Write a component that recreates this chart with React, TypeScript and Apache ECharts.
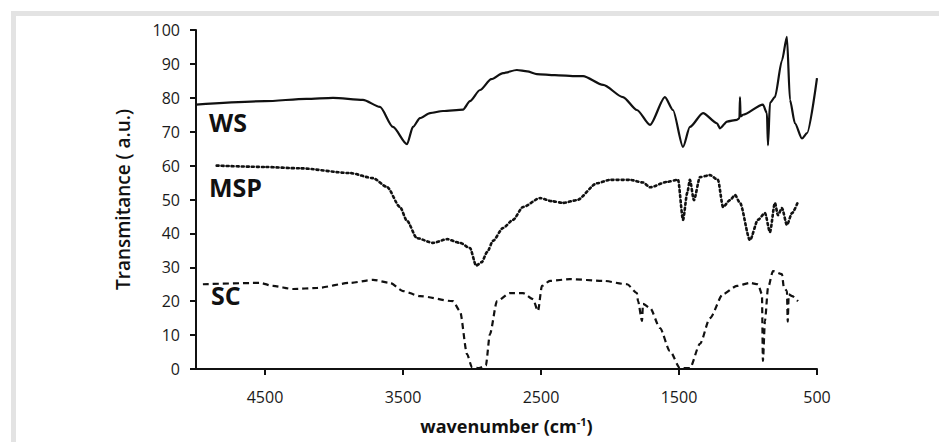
import React, { useEffect, useRef } from "react";
import * as echarts from "echarts";

const xTicks = [4500, 3500, 2500, 1500, 500];

const wsWn = [5000, 4500, 4200, 4007, 3790, 3667, 3573, 3471, 3428, 3377, 3304, 3210, 3065, 3015, 2942, 2860, 2775, 2675, 2600, 2530, 2400, 2240, 2195, 2050, 1906, 1805, 1710, 1602, 1544, 1471, 1421, 1326, 1225, 1203, 1152, 1080, 1062, 1058, 1054, 1036, 892, 863, 855, 841, 805, 754, 718, 696, 660, 609, 572, 500];
const wsT = [78, 79, 79.7, 80, 79.4, 77.3, 71.4, 66.3, 71.4, 74, 75.5, 76.1, 76.5, 79, 82.3, 85.5, 87.3, 88.2, 87.8, 87, 86.7, 86.4, 86.4, 83.8, 80.2, 76.4, 72, 80.2, 76.4, 65.5, 71.4, 75.5, 72.5, 71, 73, 73.5, 74, 80.2, 74.5, 75, 78, 75.5, 66, 78.5, 80.2, 91, 98, 79.4, 72.5, 68, 69.6, 85.8];

const mspWn = [4850, 4500, 4246, 3884, 3717, 3616, 3522, 3471, 3399, 3283, 3181, 3087, 3015, 2970, 2930, 2890, 2848, 2775, 2703, 2630, 2507, 2420, 2341, 2240, 2094, 2000, 1855, 1760, 1710, 1587, 1507, 1471, 1440, 1421, 1392, 1348, 1275, 1218, 1181, 1131, 1094, 1058, 986, 928, 877, 841, 805, 783, 754, 718, 681, 638];
const mspT = [60, 59.6, 59.2, 57.8, 56.3, 53.7, 47.8, 43.7, 38.6, 37.2, 38.3, 37.2, 35.7, 30.5, 31.5, 34.5, 37.8, 41.6, 44, 47.8, 50.4, 49.5, 49, 49.8, 54.8, 55.8, 55.8, 55, 53.6, 55.2, 55.8, 44, 52, 55.8, 49.8, 56.6, 57.2, 55.8, 47.8, 49.8, 51.3, 49, 38, 44, 46, 40.4, 49, 45.4, 47.5, 42.5, 46, 49.3];

const scWn = [4950, 4536, 4442, 4297, 4123, 3884, 3717, 3594, 3500, 3377, 3138, 3087, 3036, 3000, 2950, 2900, 2870, 2819, 2725, 2630, 2558, 2522, 2493, 2435, 2290, 2050, 1877, 1805, 1797, 1768, 1761, 1710, 1638, 1566, 1493, 1421, 1348, 1276, 1181, 1080, 986, 928, 899, 892, 877, 855, 819, 754, 740, 718, 712, 705, 680, 638];
const scT = [25, 25.4, 24.5, 23.6, 23.9, 25.4, 26.3, 25.4, 23, 21.5, 20, 17.1, 4.4, 0.5, 0.3, 1, 10.3, 20, 22.4, 22.4, 20.6, 17.1, 24.5, 26, 26.5, 26, 25, 22.4, 20, 14.2, 19.2, 18, 12.1, 5.3, 0.3, 0.3, 7.4, 15, 22.1, 24.5, 25.4, 25, 22.1, 2.4, 14.2, 23.9, 28.9, 28, 24, 23, 14, 22, 21.5, 20];

const seriesNames = ["WS", "MSP", "SC"];

function pairs(xs: number[], ys: number[]) {
  return xs.map((x, i) => [x, ys[i]]);
}

export default function App() {
  const ref = useRef<HTMLDivElement>(null);
  useEffect(() => {
    document.body.style.margin = "0";
    const chart = echarts.init(ref.current!, null, { renderer: "svg" });
    const font = "'Open Sans', 'Noto Sans', sans-serif";
    chart.setOption({
      animation: false,
      backgroundColor: "#ffffff",
      grid: { left: 196, right: 122, top: 30, bottom: 73, containLabel: false, outerBoundsMode: "none" },
      xAxis: {
        type: "value",
        min: 500,
        max: 5000,
        inverse: true,
        name: "wavenumber (cm{sup|-1})",
        nameLocation: "middle",
        nameGap: 47,
        nameTextStyle: {
          fontFamily: font,
          fontSize: 18,
          fontWeight: "bold",
          color: "#111",
          rich: {
            sup: { fontFamily: font, fontSize: 11, fontWeight: "bold", color: "#111", verticalAlign: "top", padding: [0, 0, 8, 0] },
          },
        },
        splitLine: { show: false },
        axisLine: { show: true, lineStyle: { color: "#111", width: 2 } },
        axisTick: { show: true, length: 6, lineStyle: { color: "#111", width: 2 }, customValues: xTicks },
        axisLabel: { fontFamily: font, fontSize: 16, color: "#1a1a1a", margin: 20, customValues: xTicks, formatter: (v: number) => String(v) },
      },
      yAxis: {
        type: "value",
        min: 0,
        max: 100,
        interval: 10,
        name: "Transmitance ( a.u.)",
        nameLocation: "middle",
        nameGap: 64,
        nameTextStyle: { fontFamily: font, fontSize: 19, fontWeight: 600, color: "#111" },
        splitLine: { show: false },
        axisLine: { show: true, lineStyle: { color: "#111", width: 2 } },
        axisTick: { show: true, length: 6, lineStyle: { color: "#111", width: 2 } },
        axisLabel: { fontFamily: font, fontSize: 16, color: "#1a1a1a", margin: 16 },
      },
      series: [
        {
          name: seriesNames[0],
          type: "line",
          data: pairs(wsWn, wsT),
          showSymbol: false,
          smooth: 0.25,
          smoothMonotone: "x",
          lineStyle: { color: "#111", width: 2.2, type: "solid" },
        },
        {
          name: seriesNames[1],
          type: "line",
          data: pairs(mspWn, mspT),
          showSymbol: false,
          smooth: 0.25,
          smoothMonotone: "x",
          lineStyle: { color: "#111", width: 2.6, type: [2, 3], cap: "round" },
        },
        {
          name: seriesNames[2],
          type: "line",
          data: pairs(scWn, scT),
          showSymbol: false,
          smooth: 0.25,
          smoothMonotone: "x",
          lineStyle: { color: "#111", width: 2.2, type: [6, 4] },
        },
      ],
      graphic: [
        { type: "rect", shape: { x: 11, y: 11, width: 928, height: 5 }, style: { fill: "#e3e3e3" }, silent: true },
        { type: "rect", shape: { x: 11, y: 11, width: 5, height: 431 }, style: { fill: "#e3e3e3" }, silent: true },
        { type: "text", left: 209, top: 109, style: { text: seriesNames[0], font: `bold 25px ${font}`, fill: "#111" } },
        { type: "text", left: 209, top: 174, style: { text: seriesNames[1], font: `bold 25px ${font}`, fill: "#111" } },
        { type: "text", left: 211, top: 282, style: { text: seriesNames[2], font: `bold 25px ${font}`, fill: "#111" } },
      ],
    });
    return () => chart.dispose();
  }, []);
  return <div ref={ref} style={{ width: 939, height: 442 }} />;
}
